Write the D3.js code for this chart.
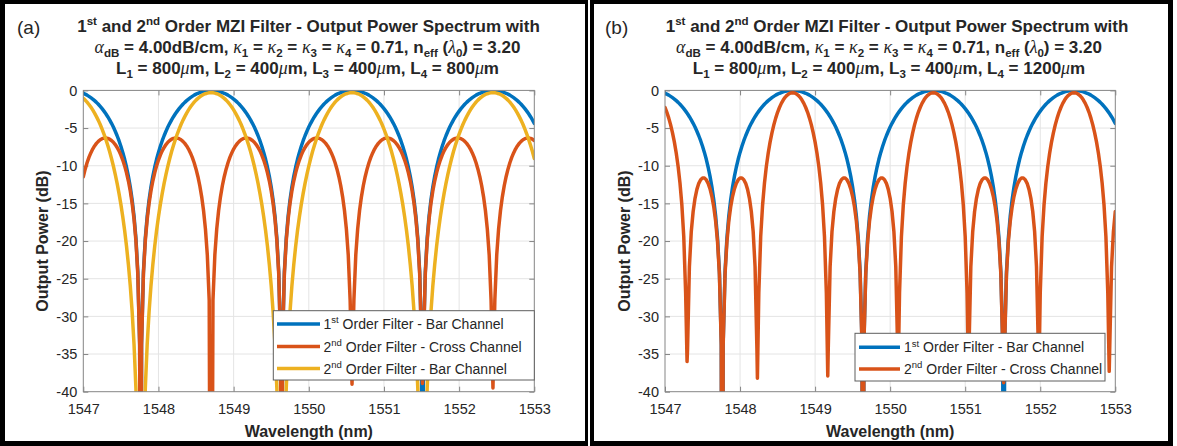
<!DOCTYPE html>
<html lang="en">
<head>
<meta charset="utf-8">
<title>1st and 2nd Order MZI Filter - Output Power Spectrum</title>
<script src="https://d3js.org/d3.v7.min.js"></script>
<style>
  body { margin: 0; background: #fff; }
  svg text { font-family: "Liberation Sans", Arial, Helvetica, sans-serif; fill: #262626; white-space: pre; }
  .axis text { font-size: 14.5px; }
  .axis line { stroke: #858585; }
  .grid line { stroke: #e4e4e4; stroke-width: 1px; }
</style>
</head>
<body>
<div id="chart"></div>
<script>

// sampling grid of the simulated spectrum (nm), 0.025 nm step
const wavelength = d3.range(241).map(i => +(1547 + i * 0.025).toFixed(3));

// 1st order filter - bar channel (dB), same in both panels
const bar1st = [
  -0.38,-0.5,-0.63,-0.79,-0.96,-1.15,-1.36,-1.59,-1.84,-2.12,-2.42,-2.75,-3.1,-3.49,-3.91,-4.37,-4.87,-5.42,-6.02,-6.68,-7.42,-8.23,-9.15,-10.2,-11.41,-12.83,-14.55,-16.71,-19.62,-24.04,-33.58,
  -33.58,-24.04,-19.62,-16.71,-14.55,-12.83,-11.41,-10.2,-9.15,-8.23,-7.42,-6.68,-6.02,-5.42,-4.87,-4.37,-3.91,-3.49,-3.1,-2.75,-2.42,-2.12,-1.84,-1.59,-1.36,-1.15,-0.96,-0.79,-0.63,-0.5,-0.38,-0.28,-0.19,-0.12,-0.07,-0.03,-0.01,
  0,-0.01,-0.03,-0.07,-0.12,-0.19,-0.28,-0.38,-0.5,-0.63,-0.79,-0.96,-1.15,-1.36,-1.59,-1.84,-2.12,-2.42,-2.75,-3.1,-3.49,-3.91,-4.37,-4.87,-5.42,-6.02,-6.68,-7.42,-8.23,-9.15,-10.2,-11.41,-12.83,-14.55,-16.71,-19.62,-24.04,-33.58,
  -33.58,-24.04,-19.62,-16.71,-14.55,-12.83,-11.41,-10.2,-9.15,-8.23,-7.42,-6.68,-6.02,-5.42,-4.87,-4.37,-3.91,-3.49,-3.1,-2.75,-2.42,-2.12,-1.84,-1.59,-1.36,-1.15,-0.96,-0.79,-0.63,-0.5,-0.38,-0.28,-0.19,-0.12,-0.07,-0.03,-0.01,
  0,-0.01,-0.03,-0.07,-0.12,-0.19,-0.28,-0.38,-0.5,-0.63,-0.79,-0.96,-1.15,-1.36,-1.59,-1.84,-2.12,-2.42,-2.75,-3.1,-3.49,-3.91,-4.37,-4.87,-5.42,-6.02,-6.68,-7.42,-8.23,-9.15,-10.2,-11.41,-12.83,-14.55,-16.71,-19.62,-24.04,-33.58,
  -33.58,-24.04,-19.62,-16.71,-14.55,-12.83,-11.41,-10.2,-9.15,-8.23,-7.42,-6.68,-6.02,-5.42,-4.87,-4.37,-3.91,-3.49,-3.1,-2.75,-2.42,-2.12,-1.84,-1.59,-1.36,-1.15,-0.96,-0.79,-0.63,-0.5,-0.38,-0.28,-0.19,-0.12,-0.07,-0.03,-0.01,
  0,-0.01,-0.03,-0.07,-0.12,-0.19,-0.28,-0.38,-0.5,-0.63,-0.79,-0.96,-1.15,-1.36,-1.59,-1.84,-2.12,-2.42,-2.75,-3.1,-3.49,-3.91,-4.37
];

// panel (a): 2nd order filter - cross channel
const cross2ndA = [
  -11.46,-10.46,-9.61,-8.9,-8.3,-7.79,-7.37,-7.03,-6.76,-6.55,-6.41,-6.34,-6.32,-6.37,-6.48,-6.65,-6.88,-7.19,-7.57,-8.03,-8.59,-9.24,-10.02,-10.94,-12.03,-13.36,-15,-17.1,-19.96,-24.36,-33.88,
  -33.88,-24.36,-19.96,-17.1,-15,-13.36,-12.03,-10.94,-10.02,-9.24,-8.59,-8.03,-7.57,-7.19,-6.88,-6.65,-6.48,-6.37,-6.32,-6.34,-6.41,-6.55,-6.76,-7.03,-7.37,-7.79,-8.3,-8.9,-9.61,-10.46,-11.46,-12.66,-14.13,-15.98,-18.41,-21.88,-27.87,
  -100,-27.87,-21.88,-18.41,-15.98,-14.13,-12.66,-11.46,-10.46,-9.61,-8.9,-8.3,-7.79,-7.37,-7.03,-6.76,-6.55,-6.41,-6.34,-6.32,-6.37,-6.48,-6.65,-6.88,-7.19,-7.57,-8.03,-8.59,-9.24,-10.02,-10.94,-12.03,-13.36,-15,-17.1,-19.96,-24.36,-33.88,
  -33.88,-24.36,-19.96,-17.1,-15,-13.36,-12.03,-10.94,-10.02,-9.24,-8.59,-8.03,-7.57,-7.19,-6.88,-6.65,-6.48,-6.37,-6.32,-6.34,-6.41,-6.55,-6.76,-7.03,-7.37,-7.79,-8.3,-8.9,-9.61,-10.46,-11.46,-12.66,-14.13,-15.98,-18.41,-21.88,-27.87,
  -39,-27.87,-21.88,-18.41,-15.98,-14.13,-12.66,-11.46,-10.46,-9.61,-8.9,-8.3,-7.79,-7.37,-7.03,-6.76,-6.55,-6.41,-6.34,-6.32,-6.37,-6.48,-6.65,-6.88,-7.19,-7.57,-8.03,-8.59,-9.24,-10.02,-10.94,-12.03,-13.36,-15,-17.1,-19.96,-24.36,-33.88,
  -33.88,-24.36,-19.96,-17.1,-15,-13.36,-12.03,-10.94,-10.02,-9.24,-8.59,-8.03,-7.57,-7.19,-6.88,-6.65,-6.48,-6.37,-6.32,-6.34,-6.41,-6.55,-6.76,-7.03,-7.37,-7.79,-8.3,-8.9,-9.61,-10.46,-11.46,-12.66,-14.13,-15.98,-18.41,-21.88,-27.87,
  -39.5,-27.87,-21.88,-18.41,-15.98,-14.13,-12.66,-11.46,-10.46,-9.61,-8.9,-8.3,-7.79,-7.37,-7.03,-6.76,-6.55,-6.41,-6.34,-6.32,-6.37,-6.48,-6.65
];

// panel (a): 2nd order filter - bar channel
const bar2ndA = [
  -1.06,-1.29,-1.56,-1.87,-2.21,-2.59,-3.01,-3.48,-3.98,-4.53,-5.14,-5.79,-6.5,-7.28,-8.12,-9.04,-10.04,-11.14,-12.34,-13.67,-15.13,-16.77,-18.61,-20.7,-23.12,-25.96,-29.39,-33.72,-39.53,-48.38,-67.46,
  -67.46,-48.38,-39.53,-33.72,-29.39,-25.96,-23.12,-20.7,-18.61,-16.77,-15.13,-13.67,-12.34,-11.14,-10.04,-9.04,-8.12,-7.28,-6.5,-5.79,-5.14,-4.53,-3.98,-3.48,-3.01,-2.59,-2.21,-1.87,-1.56,-1.29,-1.06,-0.85,-0.68,-0.54,-0.44,-0.36,-0.32,
  -0.3,-0.32,-0.36,-0.44,-0.54,-0.68,-0.85,-1.06,-1.29,-1.56,-1.87,-2.21,-2.59,-3.01,-3.48,-3.98,-4.53,-5.14,-5.79,-6.5,-7.28,-8.12,-9.04,-10.04,-11.14,-12.34,-13.67,-15.13,-16.77,-18.61,-20.7,-23.12,-25.96,-29.39,-33.72,-39.53,-48.38,-67.46,
  -67.46,-48.38,-39.53,-33.72,-29.39,-25.96,-23.12,-20.7,-18.61,-16.77,-15.13,-13.67,-12.34,-11.14,-10.04,-9.04,-8.12,-7.28,-6.5,-5.79,-5.14,-4.53,-3.98,-3.48,-3.01,-2.59,-2.21,-1.87,-1.56,-1.29,-1.06,-0.85,-0.68,-0.54,-0.44,-0.36,-0.32,
  -0.3,-0.32,-0.36,-0.44,-0.54,-0.68,-0.85,-1.06,-1.29,-1.56,-1.87,-2.21,-2.59,-3.01,-3.48,-3.98,-4.53,-5.14,-5.79,-6.5,-7.28,-8.12,-9.04,-10.04,-11.14,-12.34,-13.67,-15.13,-16.77,-18.61,-20.7,-23.12,-25.96,-29.39,-33.72,-39.53,-48.38,-67.46,
  -67.46,-48.38,-39.53,-33.72,-29.39,-25.96,-23.12,-20.7,-18.61,-16.77,-15.13,-13.67,-12.34,-11.14,-10.04,-9.04,-8.12,-7.28,-6.5,-5.79,-5.14,-4.53,-3.98,-3.48,-3.01,-2.59,-2.21,-1.87,-1.56,-1.29,-1.06,-0.85,-0.68,-0.54,-0.44,-0.36,-0.32,
  -0.3,-0.32,-0.36,-0.44,-0.54,-0.68,-0.85,-1.06,-1.29,-1.56,-1.87,-2.21,-2.59,-3.01,-3.48,-3.98,-4.53,-5.14,-5.79,-6.5,-7.28,-8.12,-9.04
];

// panel (b): 2nd order filter - cross channel
const cross2ndB = [
  -2.27,-2.91,-3.68,-4.58,-5.63,-6.87,-8.34,-10.12,-12.34,-15.25,-19.43,-26.9,-34.5,-23.41,-18.76,-16.08,-14.33,-13.14,-12.34,-11.86,-11.63,-11.64,-11.87,-12.34,-13.07,-14.09,-15.48,-17.39,-20.11,-24.41,-33.89,
  -33.89,-24.41,-20.11,-17.39,-15.48,-14.09,-13.07,-12.34,-11.87,-11.64,-11.63,-11.86,-12.34,-13.14,-14.33,-16.08,-18.76,-23.41,-34.5,-26.9,-19.43,-15.25,-12.34,-10.12,-8.34,-6.87,-5.63,-4.58,-3.68,-2.91,-2.27,-1.72,-1.28,-0.92,-0.65,-0.45,-0.34,
  -0.3,-0.34,-0.45,-0.65,-0.92,-1.28,-1.72,-2.27,-2.91,-3.68,-4.58,-5.63,-6.87,-8.34,-10.12,-12.34,-15.25,-19.43,-26.9,-34.5,-23.41,-18.76,-16.08,-14.33,-13.14,-12.34,-11.86,-11.63,-11.64,-11.87,-12.34,-13.07,-14.09,-15.48,-17.39,-20.11,-24.41,-33.89,
  -33.89,-24.41,-20.11,-17.39,-15.48,-14.09,-13.07,-12.34,-11.87,-11.64,-11.63,-11.86,-12.34,-13.14,-14.33,-16.08,-18.76,-23.41,-34.5,-26.9,-19.43,-15.25,-12.34,-10.12,-8.34,-6.87,-5.63,-4.58,-3.68,-2.91,-2.27,-1.72,-1.28,-0.92,-0.65,-0.45,-0.34,
  -0.3,-0.34,-0.45,-0.65,-0.92,-1.28,-1.72,-2.27,-2.91,-3.68,-4.58,-5.63,-6.87,-8.34,-10.12,-12.34,-15.25,-19.43,-26.9,-34.5,-23.41,-18.76,-16.08,-14.33,-13.14,-12.34,-11.86,-11.63,-11.64,-11.87,-12.34,-13.07,-14.09,-15.48,-17.39,-20.11,-24.41,-33.89,
  -33.89,-24.41,-20.11,-17.39,-15.48,-14.09,-13.07,-12.34,-11.87,-11.64,-11.63,-11.86,-12.34,-13.14,-14.33,-16.08,-18.76,-23.41,-34.5,-26.9,-19.43,-15.25,-12.34,-10.12,-8.34,-6.87,-5.63,-4.58,-3.68,-2.91,-2.27,-1.72,-1.28,-0.92,-0.65,-0.45,-0.34,
  -0.3,-0.34,-0.45,-0.65,-0.92,-1.28,-1.72,-2.27,-2.91,-3.68,-4.58,-5.63,-6.87,-8.34,-10.12,-12.34,-15.25,-19.43,-26.9,-34.5,-23.41,-18.76,-16.08
];

// notch minima that fall between grid samples: [wavelength nm, dB]
const notchBar1st = [[1547.7625, -100], [1549.6375, -100], [1551.5125, -100]];
const notchCross2ndA = [[1547.7625, -100], [1549.6375, -100], [1551.5125, -38.9]];
const notchBar2ndA = [[1547.7625, -100], [1549.6375, -100], [1551.5125, -100]];
const notchCross2ndB = [[1547.29375, -36], [1547.7625, -100], [1548.23125, -38.2], [1549.16875, -37.9],
  [1549.6375, -100], [1550.10625, -38], [1551.04375, -38], [1551.5125, -38.8], [1551.98125, -38.3], [1552.91875, -37.3]];

const xTicks = [1547, 1548, 1549, 1550, 1551, 1552, 1553];
const yTicks = [0, -5, -10, -15, -20, -25, -30, -35, -40];

// rich text pieces: [text, kind] kind = sup | sub | g (greek, math italic)
const titleLine1 = [["1"], ["st", "sup"], [" and 2"], ["nd", "sup"], [" Order MZI Filter - Output Power Spectrum with"]];
const titleLine2 = [["α", "g"], ["dB", "sub"], [" = 4.00dB/cm, "], ["κ", "g"], ["1", "sub"], [" = "], ["κ", "g"], ["2", "sub"],
  [" = "], ["κ", "g"], ["3", "sub"], [" = "], ["κ", "g"], ["4", "sub"], [" = 0.71, n"], ["eff", "sub"], [" ("], ["λ", "g"], ["0", "sub"], [") = 3.20"]];
const titleLine3A = [["L"], ["1", "sub"], [" = 800"], ["μ", "g"], ["m, L"], ["2", "sub"], [" = 400"], ["μ", "g"], ["m, L"], ["3", "sub"],
  [" = 400"], ["μ", "g"], ["m, L"], ["4", "sub"], [" = 800"], ["μ", "g"], ["m"]];
const titleLine3B = [["L"], ["1", "sub"], [" = 800"], ["μ", "g"], ["m, L"], ["2", "sub"], [" = 400"], ["μ", "g"], ["m, L"], ["3", "sub"],
  [" = 400"], ["μ", "g"], ["m, L"], ["4", "sub"], [" = 1200"], ["μ", "g"], ["m"]];

const legendBar1st = [["1"], ["st", "sup"], [" Order Filter - Bar Channel"]];
const legendCross2nd = [["2"], ["nd", "sup"], [" Order Filter - Cross Channel"]];
const legendBar2nd = [["2"], ["nd", "sup"], [" Order Filter - Bar Channel"]];

const colors = { blue: "#0072BD", red: "#D95319", yellow: "#EDB120" };

[bar1st, cross2ndA, bar2ndA, cross2ndB].forEach(a => {
  if (a.length !== wavelength.length) throw new Error("series length " + a.length);
});

const W = 1177, H = 446;
const svg = d3.select("#chart").append("svg").attr("width", W).attr("height", H);

// appends a text made of tspans, with sub/superscripts
function richText(g, x, y, parts, size, weight, anchor) {
  const t = g.append("text").attr("x", x).attr("y", y)
    .attr("text-anchor", anchor).style("font-size", size + "px").style("font-weight", weight);
  let shift = 0;
  parts.forEach(p => {
    const kind = p[1];
    const target = kind === "sub" ? size * 0.26 : kind === "sup" ? -size * 0.4 : 0;
    const ts = t.append("tspan").attr("dy", target - shift).text(p[0]);
    shift = target;
    if (kind === "sub" || kind === "sup") ts.style("font-size", (size * 0.68) + "px");
    if (kind === "g") ts.style("font-family", "'Liberation Serif', 'DejaVu Serif', serif")
      .style("font-style", "italic").style("font-weight", "normal").style("font-size", (size * 1.05) + "px");
  });
  return t;
}

function drawPanel(p) {
  const g = svg.append("g");
  const top = 90.4, bottom = 391.7;
  const x = d3.scaleLinear().domain([1547, 1553]).range([p.left, p.right]);
  const y = d3.scaleLinear().domain([-40, 0]).range([bottom, top]);

  // grid
  g.append("g").attr("class", "grid").selectAll("line").data(xTicks.slice(1, -1)).join("line")
    .attr("x1", d => x(d)).attr("x2", d => x(d)).attr("y1", top).attr("y2", bottom);
  g.append("g").attr("class", "grid").selectAll("line").data(yTicks.slice(1, -1)).join("line")
    .attr("y1", d => y(d)).attr("y2", d => y(d)).attr("x1", p.left).attr("x2", p.right);

  // axes with inward ticks on all four sides
  const mk = (axis, tr, labels) => {
    const a = g.append("g").attr("class", "axis").attr("transform", tr).call(axis);
    a.select(".domain").remove();
    if (!labels) a.selectAll("text").remove();
    return a;
  };
  mk(d3.axisBottom(x).tickValues(xTicks).tickSize(-5).tickPadding(12).tickFormat(d => String(d)), `translate(0,${bottom})`, true);
  mk(d3.axisTop(x).tickValues(xTicks).tickSize(-5), `translate(0,${top})`, false);
  mk(d3.axisLeft(y).tickValues(yTicks).tickSize(-5).tickPadding(6).tickFormat(d => String(d)), `translate(${p.left},0)`, true);
  mk(d3.axisRight(y).tickValues(yTicks).tickSize(-5), `translate(${p.right},0)`, false);

  // curves
  g.append("clipPath").attr("id", "clip" + p.id).append("rect")
    .attr("x", p.left).attr("y", top).attr("width", p.right - p.left).attr("height", bottom - top);
  const line = d3.line().x(d => x(d[0])).y(d => y(d[1]));
  const curves = g.append("g").attr("clip-path", `url(#clip${p.id})`);
  p.series.forEach(s => {
    const pts = wavelength.map((w, i) => [w, s.values[i]]).concat(s.notches).sort((a, b) => a[0] - b[0]);
    curves.append("path").datum(pts).attr("d", line)
      .attr("fill", "none").attr("stroke", s.color).attr("stroke-width", 3.5)
      .attr("stroke-linejoin", "round").attr("stroke-linecap", "round");
  });

  // box
  g.append("rect").attr("x", p.left).attr("y", top).attr("width", p.right - p.left).attr("height", bottom - top)
    .attr("fill", "none").attr("stroke", "#858585").attr("stroke-width", 1);

  // axis titles
  g.append("text").attr("x", (p.left + p.right) / 2).attr("y", 436.5).attr("text-anchor", "middle")
    .style("font-size", "16px").style("font-weight", "bold").text("Wavelength (nm)");
  g.append("text").attr("transform", `translate(${p.yTitleX},${(top + bottom) / 2}) rotate(-90)`).attr("text-anchor", "middle")
    .style("font-size", "16px").style("font-weight", "bold").text("Output Power (dB)");

  // titles and panel tag
  richText(g, p.titleX[0], 32, titleLine1, 17, "bold", "middle");
  richText(g, p.titleX[1], 52.5, titleLine2, 17, "bold", "middle");
  richText(g, p.titleX[1], 73.5, p.line3, 17, "bold", "middle");
  g.append("text").attr("x", p.tagX).attr("y", 33.5).style("font-size", "19px").text(p.tag);

  // legend
  const L = p.legend;
  const lg = g.append("g");
  lg.append("rect").attr("x", L.x).attr("y", L.y).attr("width", L.w).attr("height", L.h)
    .attr("fill", "#fff").attr("stroke", "#5e5e5e").attr("stroke-width", 1);
  p.series.forEach((s, i) => {
    lg.append("line").attr("x1", L.lineX[0]).attr("x2", L.lineX[1]).attr("y1", L.rows[i]).attr("y2", L.rows[i])
      .attr("stroke", s.color).attr("stroke-width", 3.5);
    richText(lg, L.textX, L.rows[i] + 5, s.label, 14, "normal", "start");
  });
}

drawPanel({
  id: "a", tag: "(a)", tagX: 17, left: 83.3, right: 534.3, yTitleX: 48, titleX: [308.5, 307.5], line3: titleLine3A,
  series: [
    { values: bar1st, notches: notchBar1st, color: colors.blue, label: legendBar1st },
    { values: cross2ndA, notches: notchCross2ndA, color: colors.red, label: legendCross2nd },
    { values: bar2ndA, notches: notchBar2ndA, color: colors.yellow, label: legendBar2nd }
  ],
  legend: { x: 273.3, y: 310.7, w: 261, h: 69.3, rows: [324, 346.5, 368.5], lineX: [277, 320], textX: 323.5 }
});

drawPanel({
  id: "b", tag: "(b)", tagX: 605, left: 665, right: 1115.3, yTitleX: 629.5, titleX: [897, 889], line3: titleLine3B,
  series: [
    { values: bar1st, notches: notchBar1st, color: colors.blue, label: legendBar1st },
    { values: cross2ndB, notches: notchCross2ndB, color: colors.red, label: legendCross2nd }
  ],
  legend: { x: 855, y: 333.3, w: 250, h: 47.7, rows: [347.3, 369], lineX: [859, 900], textX: 904 }
});

// black panel frames
const frame = d3.path();
[[0, 0, 590, 446, 5, 4, 585, 441], [588, 0, 1173, 446, 594, 4, 1168, 441]].forEach(f => {
  frame.rect(f[0], f[1], f[2] - f[0], f[3] - f[1]);
  frame.rect(f[4], f[5], f[6] - f[4], f[7] - f[5]);
});
svg.append("path").attr("d", frame.toString()).attr("fill", "#000").attr("fill-rule", "evenodd");

</script>
</body>
</html>
